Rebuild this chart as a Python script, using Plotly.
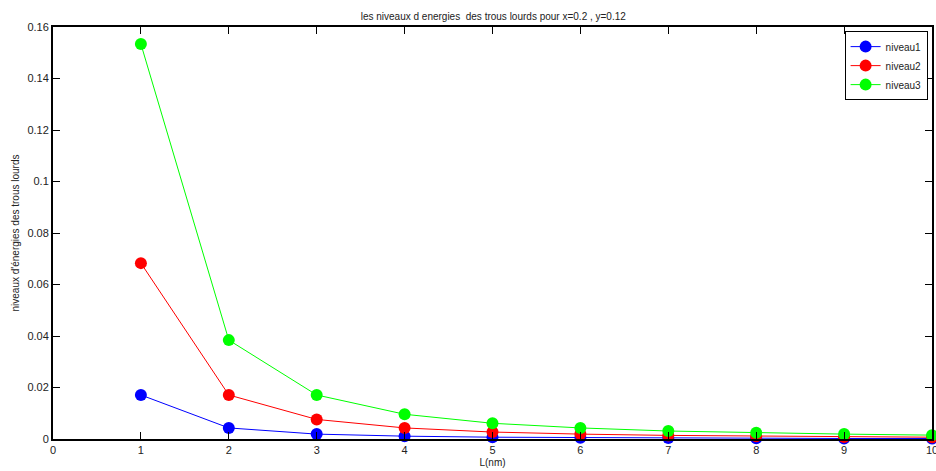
import plotly.graph_objects as go

L = [1, 2, 3, 4, 5, 6, 7, 8, 9, 10]
niveau1 = [0.0171, 0.0043, 0.0019, 0.0011, 0.0007, 0.0005, 0.00035, 0.0003, 0.0002, 0.0002]
niveau2 = [0.0683, 0.0171, 0.0076, 0.0043, 0.0027, 0.0019, 0.0014, 0.0011, 0.0008, 0.0007]
niveau3 = [0.1534, 0.0384, 0.0171, 0.0096, 0.0061, 0.0043, 0.0031, 0.0024, 0.0019, 0.0015]

series = [("niveau1", niveau1, "#0000ff"), ("niveau2", niveau2, "#ff0000"), ("niveau3", niveau3, "#00ff00")]

fig = go.Figure()
for name, vals, col in series:
    fig.add_trace(go.Scatter(x=L, y=vals, name=name, mode="lines+markers",
                             line=dict(color=col, width=1),
                             marker=dict(color=col, size=12),
                             cliponaxis=False))

axis_common = dict(showgrid=False, zeroline=False, showline=True, linecolor="black", linewidth=2,
                   mirror="ticks", ticks="inside", ticklen=7, tickcolor="black", tickwidth=1,
                   automargin=False,
                   tickfont=dict(family="Liberation Sans, Arial", size=11, color="#222"))

fig.update_xaxes(range=[0, 10], tickvals=list(range(0, 11)), ticktext=[str(i) for i in range(0, 11)],
                 ticklabeloverflow="allow",
                 title=dict(text="L(nm)", font=dict(family="Liberation Sans, Arial", size=10, color="#222"), standoff=4),
                 **axis_common)
fig.update_yaxes(range=[0, 0.16], tickvals=[0, 0.02, 0.04, 0.06, 0.08, 0.1, 0.12, 0.14, 0.16],
                 ticktext=["0", "0.02", "0.04", "0.06", "0.08", "0.1", "0.12", "0.14", "0.16"],
                 title=dict(text="niveaux d'énergies des trous lourds", font=dict(family="Liberation Sans, Arial", size=10, color="#222"), standoff=6),
                 **axis_common)

fig.update_layout(
    width=936, height=471,
    margin=dict(l=53, r=4, t=27, b=32),
    paper_bgcolor="white", plot_bgcolor="white",
    title=dict(text="les niveaux d energies  des trous lourds pour x=0.2 , y=0.12",
               font=dict(family="Liberation Sans, Arial", size=10, color="#222"),
               x=0.527, xanchor="center", y=0.965, yanchor="middle"),
    legend=dict(x=0.995, xanchor="right", y=0.99, yanchor="top",
                bordercolor="black", borderwidth=1, bgcolor="white",
                font=dict(family="Liberation Sans, Arial", size=10, color="#222"),
                itemwidth=30, tracegroupgap=0),
    showlegend=True,
)

fig.write_html("out.html")
